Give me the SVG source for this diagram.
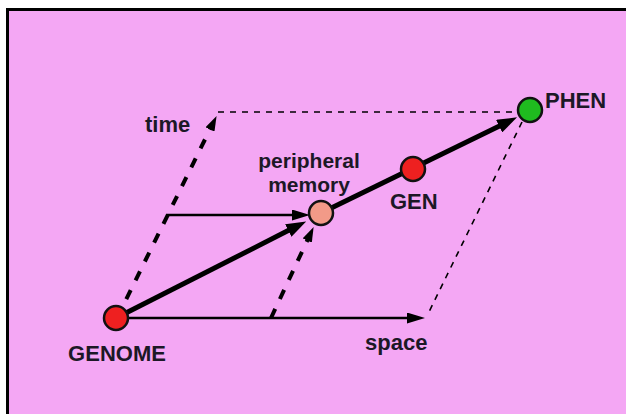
<svg xmlns="http://www.w3.org/2000/svg" width="626" height="414" viewBox="0 0 626 414">
<style>
.lbl{font-family:"Liberation Sans",Arial,sans-serif;font-weight:bold;font-size:22px;fill:#1c1826}
.sm{font-size:21px}
.node{stroke:#111;stroke-width:2.5}
.thick{stroke:#000;stroke-width:5;fill:none}
.thin{stroke:#000;stroke-width:2.5;fill:none}
.dthick{stroke:#000;stroke-width:4;stroke-dasharray:10 11;fill:none}
.dthin{stroke:#000;stroke-width:1.6;stroke-dasharray:6 6;fill:none}
</style>
<defs>
<marker id="ah" markerUnits="userSpaceOnUse" viewBox="0 0 18 11" refX="1" refY="5.5" markerWidth="18" markerHeight="11" orient="auto"><path d="M0,0 L18,5.5 L0,11 z" fill="#000"/></marker>
<marker id="ahk" markerUnits="userSpaceOnUse" viewBox="0 0 20 14" refX="1" refY="7" markerWidth="20" markerHeight="14" orient="auto"><path d="M0,0 L20,7 L0,14 z" fill="#000"/></marker>
<marker id="ahd" markerUnits="userSpaceOnUse" viewBox="0 0 15 10" refX="1" refY="5" markerWidth="15" markerHeight="10" orient="auto"><path d="M0,0 L15,5 L0,10 z" fill="#000"/></marker>
</defs>
<rect x="0" y="0" width="626" height="414" fill="#fff"/>
<rect x="7.5" y="9.5" width="640" height="420" fill="#f4a7f4" stroke="#000" stroke-width="3"/>
<g id="connectors">
<path class="dthin" d="M218,112 L520,112"/>
<path class="dthin" d="M522,122 L427,316"/>
<path class="dthick" d="M117,318 L210.4,128.5" marker-end="url(#ahd)"/>
<path class="dthick" d="M271,318 L307.7,239.6" marker-end="url(#ahd)"/>
<path class="thin" d="M128,318 L408,318" marker-end="url(#ah)"/>
<path class="thin" d="M166,215 L293,215" marker-end="url(#ah)"/>
<path class="thick" d="M116,318 L289.2,230.1" marker-end="url(#ahk)"/>
<path class="thick" d="M321,213 L500,125.7" marker-end="url(#ahk)"/>
</g>
<g id="genome"><circle class="node" cx="116" cy="318" r="12" fill="#ee2020"/><text class="lbl" x="117" y="361" text-anchor="middle">GENOME</text></g>
<g id="memory"><circle class="node" cx="321" cy="213" r="12" fill="#f29a88"/><text class="lbl sm" x="309" y="168" text-anchor="middle">peripheral</text><text class="lbl sm" x="309" y="192" text-anchor="middle">memory</text></g>
<g id="gen"><circle class="node" cx="413" cy="169" r="12" fill="#ee2020"/><text class="lbl" x="390" y="209">GEN</text></g>
<g id="phen"><circle class="node" cx="530" cy="110" r="12" fill="#1fbb1f"/><text class="lbl" x="545" y="108">PHEN</text></g>
<g id="axes-labels"><text class="lbl" x="145" y="132">time</text><text class="lbl" x="365" y="350">space</text></g>
</svg>
